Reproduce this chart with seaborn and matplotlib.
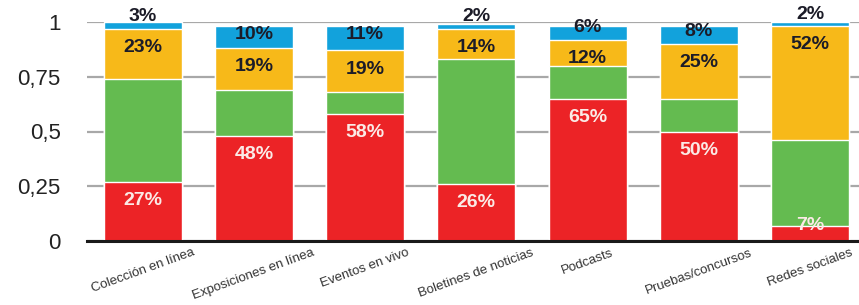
import matplotlib
matplotlib.use("Agg")

import pandas as pd
import matplotlib.pyplot as plt
import seaborn as sns

# Categories and stacked shares (percent), bottom -> top
categories = ["Colección en línea", "Exposiciones en línea", "Eventos en vivo",
              "Boletines de noticias", "Podcasts", "Pruebas/concursos",
              "Redes sociales"]
red_vals = [27, 48, 58, 26, 65, 50, 7]
green_vals = [47, 21, 10, 57, 15, 15, 39]
yellow_vals = [23, 19, 19, 14, 12, 25, 52]
blue_vals = [3, 10, 11, 2, 6, 8, 2]
y_ticks = [0, 0.25, 0.5, 0.75, 1]
y_ticklabels = ["0", "0,25", "0,5", "0,75", "1"]

RED, GREEN, YELLOW, BLUE = "#ec2326", "#64bb50", "#f7b919", "#12a2dc"

df = pd.DataFrame({"cat": categories, "red": red_vals, "green": green_vals,
                   "yellow": yellow_vals, "blue": blue_vals})
for col in ["red", "green", "yellow", "blue"]:
    df[col] = df[col] / 100
df["c1"] = df["red"]
df["c2"] = df["c1"] + df["green"]
df["c3"] = df["c2"] + df["yellow"]
df["c4"] = df["c3"] + df["blue"]

sns.set_style("white")
plt.rcParams["font.family"] = ["Liberation Sans", "DejaVu Sans"]

fig = plt.figure(figsize=(8.59, 3.05), dpi=100)
ax = fig.add_axes([87 / 859, 64 / 305, (859 - 87) / 859, 219 / 305])

# stacked bars: draw cumulative totals from back to front
for col, color in [("c4", BLUE), ("c3", YELLOW), ("c2", GREEN), ("c1", RED)]:
    sns.barplot(data=df, x="cat", y=col, color=color, saturation=1,
                width=0.7, ax=ax, zorder=2)

# value labels (green segments are unlabelled)
for i, row in df.iterrows():
    y_red = max(row["c1"] - 0.085, 0.07)
    ax.text(i, y_red, f"{row['red'] * 100:.0f}%", ha="center", va="center",
            fontsize=14, fontweight="bold", color="#fbeae6", zorder=5)
    ax.text(i, row["c3"] - 0.085, f"{row['yellow'] * 100:.0f}%", ha="center",
            va="center", fontsize=14, fontweight="bold", color="#1c1c28",
            zorder=5)
    y_blue = max(row["c4"] - 0.035, row["c3"] + 0.055)
    ax.text(i, y_blue, f"{row['blue'] * 100:.0f}%", ha="center", va="center",
            fontsize=14, fontweight="bold", color="#1c1c28", zorder=5,
            clip_on=False)

ax.set_xlim(-0.5, 6.44)
ax.set_ylim(0, 1)
ax.set_yticks(y_ticks)
ax.set_yticklabels(y_ticklabels)
ax.yaxis.grid(True, color="#a8a8a8", linewidth=1.6)
ax.set_axisbelow(True)
ax.set_xlabel("")
ax.set_ylabel("")

for side in ["top", "right", "left"]:
    ax.spines[side].set_visible(False)
ax.spines["bottom"].set_color("#1a1a1a")
ax.spines["bottom"].set_linewidth(2.2)
ax.spines["bottom"].set_zorder(4)

ax.tick_params(axis="y", length=0, pad=19, labelsize=16, labelcolor="#222222")
ax.tick_params(axis="x", length=0, pad=4, labelsize=9.5, labelcolor="#333333")
for lbl in ax.get_xticklabels():
    lbl.set_rotation(20)
    lbl.set_ha("center")

fig.savefig("out.png", dpi=100)
